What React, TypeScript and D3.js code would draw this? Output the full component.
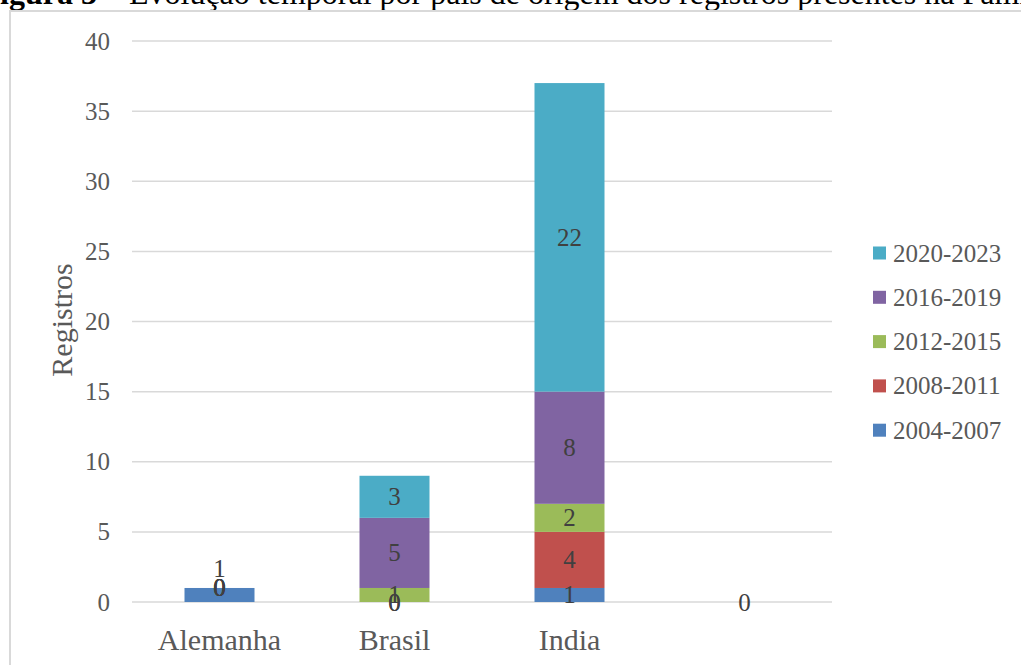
import React from "react";
import * as d3 from "d3";

const categories = ["Alemanha", "Brasil", "India", ""];
const seriesNames = ["2004-2007", "2008-2011", "2012-2015", "2016-2019", "2020-2023"];
const colors = ["#4F81BD", "#C0504D", "#9BBB59", "#8064A2", "#4BACC6"];
// values per series, per category (null = no value)
const s2004 = [1, 0, 1, 0];
const s2008 = [0, 0, 4, null];
const s2012 = [0, 1, 2, null];
const s2016 = [0, 5, 8, null];
const s2020 = [0, 3, 22, null];
const seriesValues = [s2004, s2008, s2012, s2016, s2020];
const yTicks = [0, 5, 10, 15, 20, 25, 30, 35, 40];

const W = 1021, H = 665;
const plot = { left: 132, right: 832, top: 41, bottom: 602 };
const FONT = "'Liberation Serif', 'Times New Roman', serif";

export default function App() {
  const x = d3.scaleBand<string>().domain(categories.map((c, i) => String(i))).range([plot.left, plot.right]).paddingInner(0.6).paddingOuter(0.3);
  const y = d3.scaleLinear().domain([0, 40]).range([plot.bottom, plot.top]);
  const bw = x.bandwidth();

  const segs: any[] = [];
  categories.forEach((c, ci) => {
    let base = 0;
    seriesValues.forEach((sv, si) => {
      const v = sv[ci];
      if (v === null) return;
      segs.push({ ci, si, v, y0: base, y1: base + v });
      base += v;
    });
  });

  return (
    <svg width={W} height={H} style={{ position: "fixed", left: 0, top: 0, background: "#fff" }}>
      <rect x={0} y={0} width={W} height={H} fill="#fff" />
      <text x={-19.5} y={4} fontFamily={FONT} fontSize={32} fill="#000">
        <tspan fontWeight="bold">Figura 3</tspan>
        <tspan> – Evolução temporal por país de origem dos registros presentes na Família</tspan>
      </text>
      <rect x={10} y={11} width={W} height={H} fill="none" stroke="#d9d9d9" strokeWidth={2} />
      {yTicks.map(t => (
        <g key={t}>
          <line x1={plot.left} x2={plot.right} y1={y(t)} y2={y(t)} stroke="#d9d9d9" strokeWidth={1.5} />
          <text x={110} y={y(t)} dy="0.34em" textAnchor="end" fontFamily={FONT} fontSize={25} fill="#595959">{t}</text>
        </g>
      ))}
      {segs.filter(s => s.v > 0).map((s, i) => (
        <rect key={i} x={x(String(s.ci))!} width={bw} y={y(s.y1)} height={y(s.y0) - y(s.y1)} fill={colors[s.si]} />
      ))}
      {segs.map((s, i) => {
        const nudge = s.ci === 0 && s.si === 0 ? -26 : 0;
        return (
          <text key={"l" + i} x={x(String(s.ci))! + bw / 2} y={y((s.y0 + s.y1) / 2) + nudge} dy="0.34em" textAnchor="middle" fontFamily={FONT} fontSize={25} fill="#404040">{s.v}</text>
        );
      })}
      {categories.map((c, ci) => (
        <text key={c + ci} x={x(String(ci))! + bw / 2} y={650} textAnchor="middle" fontFamily={FONT} fontSize={30} fill="#595959">{c}</text>
      ))}
      <text transform={`translate(62,320) rotate(-90)`} textAnchor="middle" dy="0.34em" fontFamily={FONT} fontSize={30} fill="#595959">Registros</text>
      {seriesNames.slice().reverse().map((n, i) => {
        const si = seriesNames.length - 1 - i;
        const cy = 253 + i * 44.3;
        return (
          <g key={n}>
            <rect x={873} y={cy - 6.5} width={13} height={13} fill={colors[si]} />
            <text x={893} y={cy} dy="0.34em" fontFamily={FONT} fontSize={25} fill="#595959">{n}</text>
          </g>
        );
      })}
    </svg>
  );
}
